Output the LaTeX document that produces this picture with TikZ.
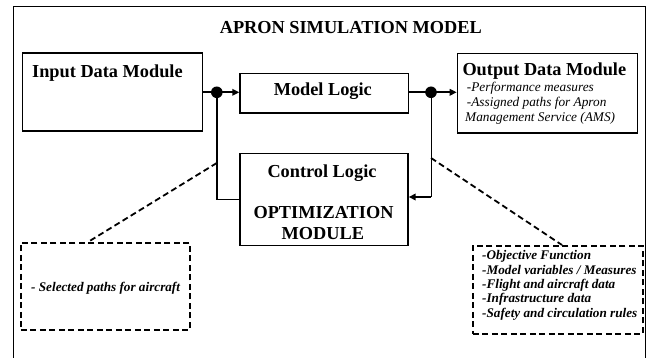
\documentclass[tikz,border=0pt]{standalone}
\usepackage{fontspec}
\setmainfont{Liberation Serif}
\usetikzlibrary{arrows.meta}
\tikzset{
  boxnode/.style={draw, line width=1.4pt, rectangle, inner sep=0pt, anchor=north west},
  dbox/.style={draw, line width=1.8pt, dash pattern=on 6pt off 3.5pt, rectangle, inner sep=0pt, anchor=north west},
  dline/.style={line width=1.8pt, dash pattern=on 6pt off 3.5pt},
  hfont/.style={font=\fontsize{18.3}{20}\selectfont\bfseries, inner sep=0pt},
  ifont/.style={font=\fontsize{13.3}{15}\selectfont\itshape, inner sep=0pt, anchor=base west},
  bifont/.style={font=\fontsize{13.2}{14}\selectfont\bfseries\itshape, inner sep=0pt, anchor=base west},
  arr/.style={line width=1.8pt, -{Triangle[length=7pt,width=6.5pt]}},
  conn/.style={line width=1.8pt},
}
\begin{document}
\begin{tikzpicture}[x=1pt,y=-1pt]
\useasboundingbox (0,0) rectangle (651,358);
% outer frame (bottom edge out of view)
\draw[line width=1pt] (13.3,358) -- (13.3,6.7) -- (645.5,6.7) -- (645.5,358);
\node[hfont, anchor=base] (title) at (350.8,33.3) {APRON SIMULATION MODEL};
% boxes
\node[boxnode, minimum width=180pt, minimum height=78pt] (input) at (22,52.5) {};
\node[boxnode, minimum width=168.5pt, minimum height=39.5pt] (model) at (239.3,72.8) {};
\node[boxnode, minimum width=180pt, minimum height=79.5pt] (output) at (456.7,52.7) {};
\node[boxnode, minimum width=168pt, minimum height=92.3pt] (control) at (239.3,152.7) {};
\node[dbox, minimum width=169pt, minimum height=87pt] (leftbox) at (20,242) {};
\node[dbox, minimum width=170pt, minimum height=88pt] (rightbox) at (472,245) {};
% texts
\node[hfont, anchor=base west] (tin) at (32,77.3) {Input Data Module};
\node[hfont, anchor=base] (tmodel) at (322.8,95.5) {Model Logic};
\node[hfont, anchor=base west] (tout) at (462.3,76) {Output Data Module};
\node[ifont] (o1) at (466.7,91.7) {-Performance measures};
\node[ifont] (o2) at (466.7,106.7) {-Assigned paths for Apron};
\node[ifont] (o3) at (465,121.7) {Management Service (AMS)};
\node[hfont, anchor=base] (tctrl) at (322,177.3) {Control Logic};
\node[hfont, anchor=base] (topt) at (323.5,219) {OPTIMIZATION};
\node[hfont, anchor=base] (tmod) at (322.8,240) {MODULE};
\node[bifont] (l1) at (31,292) {- Selected paths for aircraft};
\node[bifont] (r1) at (482,260) {-Objective Function};
\node[bifont] (r2) at (482,274.3) {-Model variables / Measures};
\node[bifont] (r3) at (482,288.5) {-Flight and aircraft data};
\node[bifont] (r4) at (482,302.7) {-Infrastructure data};
\node[bifont] (r5) at (482,317) {-Safety and circulation rules};
% junctions
\coordinate (j1) at (216.8,92.3);
\coordinate (j2) at (431,92.3);
\coordinate (k1) at (j1 |- control.west);
\coordinate (k2) at (431,197);
\coordinate (d1) at (216.8,163);
\coordinate (d2) at (431,158);
% connectors
\draw[conn] (input.east |- j1) -- (j1);
\draw[arr] (j1) -- (model.west |- j1);
\draw[conn] (control.west) -- (k1);
\draw[arr] (k1) -- ([yshift=5pt]j1);
\draw[conn] (model.east |- j2) -- (j2);
\draw[arr] (j2) -- (output.west |- j2);
\draw[line width=1pt] (j2) -- (k2);
\draw[arr] (k2) -- (control.east |- k2);
\fill (j1) circle (5.8pt);
\fill (j2) circle (5.8pt);
% dashed callouts
\draw[dline] (d1) -- (leftbox.north west -| 88,0);
\draw[dline] (d2) -- (rightbox.north west -| 562,0);
\end{tikzpicture}
\end{document}
